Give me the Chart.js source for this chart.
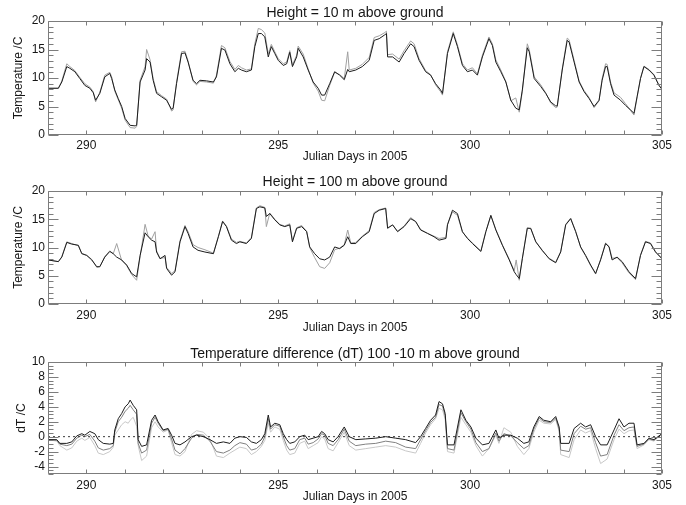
<!DOCTYPE html>
<html><head><meta charset="utf-8">
<script src="https://cdn.jsdelivr.net/npm/chart.js@4.4.1/dist/chart.umd.min.js"></script>
<style>
html,body{margin:0;padding:0;background:#fff;}
body{width:686px;height:505px;overflow:hidden;position:relative;}
canvas{position:absolute;left:0;}
</style></head>
<body>
<canvas id="c1" width="686" height="168" style="top:0px"></canvas>
<canvas id="c2" width="686" height="168" style="top:168px"></canvas>
<canvas id="c3" width="686" height="169" style="top:336px"></canvas>
<script>
// ---------- DATA ----------
const xTicks = [290, 295, 300, 305];
const tempTicks = [0, 5, 10, 15, 20];
const dtTicks = [-4, -2, 0, 2, 4, 6, 8, 10];

// Panel 1: 10 m
const days10 = [
289.00,289.27,289.36,289.49,289.57,289.70,289.83,289.96,290.09,290.18,
290.24,290.35,290.48,290.61,290.66,290.74,290.83,290.92,291.01,291.14,
291.27,291.31,291.40,291.53,291.57,291.66,291.74,291.83,291.96,292.09,
292.22,292.26,292.35,292.48,292.57,292.65,292.78,292.87,292.96,293.13,
293.31,293.39,293.52,293.61,293.74,293.87,293.96,294.04,294.17,294.30,
294.39,294.48,294.56,294.65,294.74,294.82,294.91,295.00,295.13,295.22,
295.30,295.37,295.48,295.52,295.65,295.78,295.91,296.04,296.13,296.21,
296.34,296.47,296.60,296.72,296.81,296.85,297.02,297.19,297.37,297.50,
297.63,297.76,297.82,297.85,297.98,298.15,298.28,298.45,298.54,298.67,
298.84,298.97,299.10,299.23,299.28,299.41,299.56,299.67,299.80,299.93,
300.06,300.19,300.32,300.49,300.58,300.67,300.80,300.93,301.06,301.19,
301.28,301.36,301.49,301.54,301.67,301.84,301.97,302.10,302.23,302.27,
302.40,302.53,302.58,302.71,302.84,302.97,303.10,303.23,303.36,303.44,
303.53,303.57,303.66,303.75,303.92,304.05,304.18,304.27,304.35,304.44,
304.53,304.66,304.79,304.92,305.00];
const t10Black = [
8.2,8.2,9.3,12.0,11.7,11.1,9.9,8.7,8.2,7.4,
6.1,7.3,10.2,10.8,9.9,7.9,6.4,5.0,2.9,1.7,
1.6,1.7,9.3,11.4,13.4,12.8,9.6,7.3,6.7,6.1,
4.5,4.7,9.0,14.3,14.4,12.8,9.6,9.0,9.6,9.5,
9.3,10.2,15.2,14.9,12.5,11.1,11.7,11.4,11.1,11.4,
15.5,17.8,17.8,17.2,13.7,15.5,14.3,13.1,12.2,12.5,
14.5,12.0,13.7,15.2,13.7,11.4,9.3,8.2,7.0,7.0,
9.0,11.1,10.5,9.7,11.5,11.1,11.4,12.0,13.1,16.6,
16.9,17.5,17.8,13.7,13.7,12.8,14.3,16.0,15.5,13.1,
11.1,10.5,9.0,7.9,7.3,14.3,17.8,15.5,12.2,11.1,
11.4,10.5,13.7,16.9,15.7,12.8,11.1,9.3,6.1,4.7,
4.4,7.9,15.3,14.6,9.9,8.5,7.3,5.8,5.1,5.1,
11.4,16.6,16.3,12.8,9.3,7.6,6.4,5.0,6.1,9.6,
12.0,12.0,9.0,7.0,6.1,5.2,4.4,3.8,6.7,9.9,
12.0,11.4,10.5,8.7,8.0];
const t10Grey = [
8.2,8.2,9.5,12.5,12.0,11.3,10.1,9.0,8.4,7.6,
5.8,7.5,10.5,11.0,10.2,7.7,6.2,4.7,2.6,1.3,
1.2,1.5,9.6,12.0,15.0,13.2,9.9,7.6,6.9,6.3,
4.2,4.4,9.3,14.6,14.7,13.0,9.4,8.8,9.4,9.3,
9.1,10.5,15.7,15.3,12.9,11.5,12.2,11.8,11.4,11.6,
16.0,18.7,18.5,17.9,14.2,15.9,14.6,13.4,12.5,12.8,
14.8,12.3,14.0,15.6,14.2,11.6,9.1,7.7,6.1,6.0,
8.7,11.0,10.6,9.9,14.6,11.4,11.7,12.4,13.6,17.1,
17.4,17.9,18.2,14.1,14.2,13.3,14.8,16.5,16.0,13.4,
11.3,10.6,8.8,7.6,7.0,14.6,18.1,15.8,12.5,11.4,
11.8,10.7,14.0,17.2,16.0,13.2,11.4,9.4,6.0,6.5,
4.0,7.6,16.0,15.0,10.2,8.8,7.4,5.6,4.8,4.9,
11.6,17.0,16.7,13.1,9.5,7.8,6.6,4.8,6.0,9.9,
12.5,12.4,9.3,7.4,6.6,5.5,4.3,3.5,6.5,10.0,
12.1,11.5,10.6,8.8,8.0];

// Panel 2: 100 m
const days100 = [
289.00,289.27,289.36,289.49,289.62,289.79,289.88,290.01,290.14,290.27,
290.35,290.48,290.61,290.70,290.79,290.92,291.05,291.18,291.31,291.40,
291.53,291.61,291.70,291.79,291.83,291.92,292.05,292.09,292.22,292.31,
292.44,292.57,292.65,292.78,292.91,293.09,293.31,293.44,293.55,293.65,
293.78,293.91,294.00,294.17,294.30,294.43,294.52,294.65,294.69,294.78,
294.91,295.04,295.17,295.30,295.37,295.48,295.61,295.74,295.82,295.95,
296.08,296.21,296.34,296.47,296.60,296.72,296.81,296.89,297.02,297.19,
297.37,297.50,297.63,297.80,297.85,297.98,298.11,298.28,298.45,298.58,
298.71,298.89,299.06,299.19,299.37,299.41,299.54,299.67,299.80,299.93,
300.06,300.28,300.41,300.54,300.67,300.84,301.02,301.15,301.20,301.28,
301.36,301.49,301.58,301.71,301.88,302.06,302.23,302.36,302.49,302.62,
302.75,302.88,303.01,303.14,303.27,303.40,303.53,303.62,303.70,303.83,
303.96,304.14,304.31,304.44,304.57,304.70,304.83,305.00];
const t100Black = [
7.8,7.5,8.3,10.9,10.6,10.4,8.9,8.6,7.8,6.6,
6.6,8.3,9.3,8.9,8.3,7.8,6.9,5.4,4.8,8.6,
12.6,11.9,11.3,11.0,9.2,8.0,8.6,6.3,5.1,5.7,
11.0,13.7,12.5,10.1,9.5,9.2,8.9,11.9,14.6,13.7,
11.3,10.7,11.0,10.7,11.6,16.9,17.2,17.0,15.5,16.0,
14.9,14.0,13.7,14.0,11.0,13.4,13.7,12.8,10.1,8.9,
8.0,7.8,8.3,10.1,9.8,10.4,11.9,10.7,10.7,11.9,
12.8,16.0,16.6,16.9,13.4,14.0,12.8,13.7,15.1,14.6,
13.1,12.5,11.9,11.3,11.6,14.0,16.6,16.0,12.8,11.6,
10.7,9.3,12.8,15.7,13.1,10.4,7.8,5.7,5.2,4.5,
8.0,13.4,13.4,11.0,9.5,8.0,7.3,9.2,14.0,15.1,
12.8,10.1,8.6,6.9,5.4,7.8,10.7,10.1,7.8,8.3,
7.5,5.7,4.5,8.6,11.0,10.7,9.2,8.0];
const t100Grey = [
7.8,7.5,8.4,11.0,10.7,10.3,9.0,8.6,7.9,6.5,
6.6,8.4,9.4,8.9,10.7,7.7,6.8,5.2,4.2,8.4,
14.1,12.0,11.5,12.8,9.4,8.1,8.2,6.5,5.4,5.9,
11.2,13.9,12.8,10.5,10.0,9.6,9.0,12.0,14.7,13.8,
11.5,10.9,11.1,10.8,11.8,17.0,17.4,17.1,13.7,16.1,
15.0,14.1,13.8,14.2,11.2,13.5,13.9,12.9,10.0,8.2,
6.6,6.3,7.3,9.6,9.9,10.5,13.1,10.8,10.9,12.0,
13.0,16.2,16.7,17.0,13.5,14.0,12.9,13.8,15.3,14.6,
13.2,12.5,12.0,11.6,11.8,14.1,16.3,15.7,12.7,11.7,
10.8,9.4,12.8,15.6,13.2,10.5,7.9,5.9,7.8,4.2,
8.1,13.5,13.3,11.1,9.4,8.1,7.4,9.3,14.1,15.2,
12.9,10.0,8.5,6.8,5.3,7.9,10.8,10.2,8.1,8.2,
7.3,5.5,4.3,8.7,11.1,10.8,9.3,8.1];

// Panel 3: dT (100 m - 10 m)
const daysDT = [
289.00,289.23,289.31,289.49,289.62,289.75,289.88,289.96,290.09,290.22,
290.31,290.44,290.61,290.70,290.74,290.83,290.92,291.01,291.09,291.14,
291.22,291.31,291.35,291.44,291.57,291.70,291.79,291.87,292.00,292.13,
292.22,292.31,292.44,292.57,292.74,292.87,293.05,293.22,293.39,293.57,
293.74,293.87,294.00,294.17,294.30,294.43,294.56,294.65,294.74,294.80,
294.91,295.04,295.13,295.22,295.30,295.43,295.56,295.69,295.78,295.91,
296.04,296.13,296.21,296.30,296.43,296.56,296.72,296.85,297.02,297.28,
297.54,297.80,298.06,298.32,298.58,298.71,298.84,298.97,299.10,299.19,
299.28,299.35,299.41,299.58,299.76,299.89,300.02,300.15,300.32,300.49,
300.67,300.75,300.88,301.06,301.23,301.40,301.53,301.66,301.80,301.92,
302.10,302.23,302.32,302.36,302.58,302.71,302.88,303.01,303.14,303.27,
303.40,303.57,303.75,303.88,304.01,304.14,304.27,304.35,304.53,304.66,
304.79,305.00];
const dtBlack = [
-0.4,-0.4,-0.9,-0.9,-0.7,0.1,0.4,0.2,0.7,0.4,
-0.4,-0.9,-1.0,-0.9,0.9,2.4,3.1,4.0,4.4,4.9,
4.2,3.6,-0.4,-1.3,-1.1,2.2,2.9,2.0,0.9,1.1,
0.2,-0.9,-1.1,-0.7,0.0,0.2,0.0,-0.4,-0.9,-0.7,
-0.9,-0.2,0.0,-0.1,-0.7,-0.9,-0.4,0.4,2.9,1.3,
1.8,1.6,0.4,-0.4,-0.9,-0.7,0.0,0.2,-0.4,-0.2,
0.0,0.7,0.4,-0.4,-0.7,0.0,1.3,0.0,-0.4,-0.3,
-0.2,0.0,-0.2,-0.4,-0.8,0.0,1.1,2.2,2.9,4.7,
4.4,3.1,-1.1,-1.1,3.6,2.2,1.3,-0.2,-1.1,-0.9,
0.9,-0.2,0.2,0.2,-0.2,-0.9,-0.7,1.3,2.7,2.2,
2.0,2.7,1.3,-0.9,-0.9,1.1,1.8,1.3,1.6,0.0,
-1.1,-1.1,0.9,2.4,1.3,1.8,1.8,-1.1,-0.9,-0.2,
-0.4,0.4];
const dtGrey = [
-0.4,-0.5,-1.0,-1.2,-1.0,-0.2,0.2,0.0,0.3,-0.6,
-1.5,-1.8,-1.6,-1.2,0.6,2.0,2.6,3.4,3.8,4.2,
3.6,3.0,-0.9,-2.2,-1.8,1.8,2.6,1.8,0.8,1.0,
-0.3,-1.8,-2.3,-1.6,-0.2,0.3,0.2,-0.6,-2.0,-2.2,
-1.8,-1.2,-0.8,-1.0,-1.8,-1.6,-1.0,0.0,2.4,1.0,
1.6,1.4,0.0,-1.2,-1.8,-1.6,-0.4,-0.2,-1.0,-0.8,
-0.3,0.4,0.2,-0.9,-1.2,-0.4,1.0,-0.6,-1.2,-1.0,
-0.9,-0.6,-0.8,-1.4,-1.6,-0.4,0.8,1.9,2.6,4.3,
4.1,2.8,-1.6,-1.8,3.2,2.0,1.0,-0.8,-2.0,-1.6,
0.5,-0.6,0.4,0.1,-0.8,-1.6,-1.2,1.0,2.5,2.0,
1.9,2.5,1.0,-1.8,-2.0,0.4,1.4,1.0,1.2,-0.8,
-2.6,-2.4,0.2,1.6,0.8,1.2,1.3,-1.3,-1.0,-0.3,
-0.5,0.4];
const dtLight = [
-0.4,-0.6,-1.2,-1.8,-1.5,-0.6,-0.2,-0.5,-0.1,-1.2,
-2.2,-2.4,-2.0,-1.4,0.2,0.9,1.6,2.0,1.8,2.2,
2.6,1.4,-1.2,-3.2,-2.6,1.2,2.0,1.3,0.6,0.9,
-0.8,-2.4,-2.6,-2.0,0.3,0.8,0.6,-0.3,-2.6,-2.8,
-2.2,-1.8,-1.4,-1.6,-2.4,-2.0,-1.3,-0.5,1.8,0.6,
1.3,1.0,-0.5,-1.8,-2.4,-2.2,-0.9,-0.6,-1.6,-1.2,
-0.8,0.0,-0.3,-1.6,-1.9,-0.8,0.6,-1.2,-1.8,-1.6,
-1.4,-1.2,-1.4,-1.9,-2.2,-0.9,0.5,1.6,2.4,3.8,
3.6,2.3,-2.0,-2.2,2.6,1.6,0.6,-1.2,-2.6,-1.6,
0.2,-0.9,1.2,0.6,-1.3,-2.4,-1.6,0.6,2.2,1.8,
1.7,2.3,0.7,-2.4,-2.8,-0.4,0.9,0.5,0.8,-1.6,
-3.6,-3.0,-0.4,1.0,0.4,0.8,0.9,-1.6,-1.1,-0.4,
-0.6,0.4];
const zeroRef = [0, 0];

// ---------- STYLE / DRAWING ----------
const FONT = "'Liberation Sans', Arial, Helvetica, sans-serif";
const TEXT = '#161616';
const FRAME = '#7c7c7c';
const X_MIN = 289, X_MAX = 305;

const pts = (days, vals) => days.map((d, i) => ({x: d, y: vals[i]}));

const idlBox = {
  id: 'idlbox',
  afterDatasetsDraw(chart) {
    const o = chart.options.plugins.idlbox;
    const {ctx, chartArea: a} = chart;
    const xs = chart.scales.x, ys = chart.scales.y;
    ctx.save();
    ctx.strokeStyle = FRAME; ctx.lineWidth = 1;
    const L = Math.round(a.left) + 0.5, R = Math.round(a.right) - 0.5;
    const T = Math.round(a.top) + 0.5, B = Math.round(a.bottom) - 0.5;
    ctx.beginPath();
    ctx.rect(L, T, R - L, B - T);
    const nx = Math.round((xs.max - xs.min) / o.xStep);
    for (let i = 0; i <= nx; i++) {
      const px = Math.round(xs.getPixelForValue(xs.min + i * o.xStep)) + 0.5;
      ctx.moveTo(px, B); ctx.lineTo(px, B - 4);
      ctx.moveTo(px, T); ctx.lineTo(px, T + 4);
    }
    const ny = Math.round((ys.max - ys.min) / o.yStep);
    for (let i = 0; i <= ny; i++) {
      const v = ys.min + i * o.yStep;
      const py = Math.round(ys.getPixelForValue(v)) + 0.5;
      const r = v / o.yMajor;
      const major = Math.abs(r - Math.round(r)) < 1e-6;
      const len = major ? 10 : 5;
      ctx.moveTo(L, py); ctx.lineTo(L + len, py);
      ctx.moveTo(R, py); ctx.lineTo(R - len, py);
    }
    ctx.stroke();
    ctx.fillStyle = TEXT;
    ctx.font = '14px ' + FONT;
    ctx.textAlign = 'center';
    ctx.textBaseline = 'alphabetic';
    ctx.fillText(o.title, (a.left + a.right) / 2, o.titleY);
    ctx.restore();
  }
};

function makePanel(id, p) {
  return new Chart(document.getElementById(id), {
    type: 'line',
    data: { datasets: p.datasets },
    options: {
      responsive: false, animation: false, events: [],
      layout: { padding: { top: p.areaTop, right: 24, left: 0, bottom: 0 } },
      elements: { point: { radius: 0 }, line: { borderWidth: 1, tension: 0 } },
      plugins: {
        legend: { display: false }, tooltip: { enabled: false }, title: { display: false },
        idlbox: { title: p.title, titleY: p.titleY, xStep: 1, yStep: p.yStep, yMajor: p.yMajor }
      },
      scales: {
        x: {
          type: 'linear', min: X_MIN, max: X_MAX,
          afterBuildTicks: s => { s.ticks = xTicks.map(v => ({ value: v })); },
          afterFit: s => { s.height = p.canvasH - p.areaBottom; },
          grid: { display: false, drawTicks: false }, border: { display: false },
          ticks: { color: TEXT, font: { size: 12, family: FONT }, padding: p.xTickPad, maxRotation: 0, autoSkip: false },
          title: { display: true, text: 'Julian Days in 2005', color: TEXT, font: { size: 12, family: FONT }, padding: { top: 0, bottom: p.xTitlePad } }
        },
        y: {
          type: 'linear', min: p.yMin, max: p.yMax,
          afterBuildTicks: s => { s.ticks = p.yTicks.map(v => ({ value: v })); },
          afterFit: s => { s.width = 48; },
          grid: { display: false, drawTicks: false }, border: { display: false },
          ticks: { color: TEXT, font: { size: 12, family: FONT }, padding: 3, autoSkip: false },
          title: { display: true, text: p.yTitle, color: TEXT, font: { size: 12, family: FONT }, padding: { top: p.yTitlePad, bottom: 0 } }
        }
      }
    },
    plugins: [idlBox]
  });
}

makePanel('c1', {
  canvasH: 168, areaTop: 21, areaBottom: 135, xTickPad: 3, xTitlePad: 4,
  title: 'Height = 10 m above ground', titleY: 16.5,
  yMin: 0, yMax: 20, yTicks: tempTicks, yStep: 1, yMajor: 5, yTitle: 'Temperature /C', yTitlePad: 11,
  datasets: [
    { data: pts(days10, t10Black), borderColor: '#1c1c1c' },
    { data: pts(days10, t10Grey), borderColor: '#a0a0a0' }
  ]
});
makePanel('c2', {
  canvasH: 168, areaTop: 23, areaBottom: 136, xTickPad: 4, xTitlePad: 1,
  title: 'Height = 100 m above ground', titleY: 18,
  yMin: 0, yMax: 20, yTicks: tempTicks, yStep: 1, yMajor: 5, yTitle: 'Temperature /C', yTitlePad: 11,
  datasets: [
    { data: pts(days100, t100Black), borderColor: '#1c1c1c' },
    { data: pts(days100, t100Grey), borderColor: '#a0a0a0' }
  ]
});
makePanel('c3', {
  canvasH: 169, areaTop: 26, areaBottom: 138, xTickPad: 4, xTitlePad: 1,
  title: 'Temperature difference (dT) 100 -10 m above ground', titleY: 21.5,
  yMin: -5, yMax: 10, yTicks: dtTicks, yStep: 0.5, yMajor: 2, yTitle: 'dT /C', yTitlePad: 14,
  datasets: [
    { data: pts(daysDT, dtBlack), borderColor: '#1c1c1c' },
    { data: [{ x: X_MIN, y: zeroRef[0] }, { x: X_MAX, y: zeroRef[1] }], borderColor: '#3a3a3a', borderDash: [2, 3] },
    { data: pts(daysDT, dtGrey), borderColor: '#808080' },
    { data: pts(daysDT, dtLight), borderColor: '#c8c8c8' }
  ]
});
</script>
</body></html>
